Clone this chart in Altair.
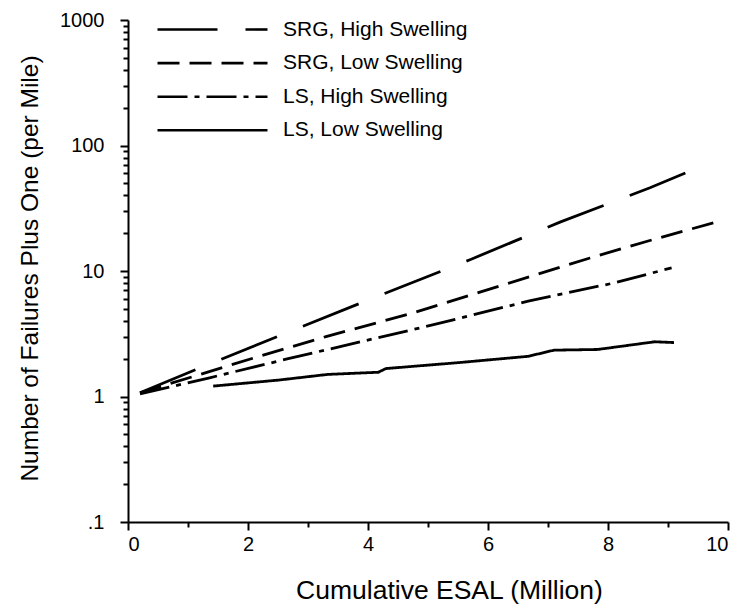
import altair as alt
import pandas as pd

series_names = ["SRG, High Swelling", "SRG, Low Swelling", "LS, High Swelling", "LS, Low Swelling"]

srg_high_x = [0.2, 1.2, 2.7, 4.2, 5.7, 7.2, 8.7, 9.55]
srg_high_y = [1.07, 1.69, 3.3, 6.4, 12.3, 24.5, 46.0, 68.0]

srg_low_x = [0.2, 1.2, 2.2, 3.3, 4.7, 6.2, 7.7, 8.75, 9.8]
srg_low_y = [1.07, 1.5, 2.1, 3.0, 4.56, 7.6, 12.7, 17.8, 24.5]

ls_high_x = [0.2, 1.36, 2.67, 3.33, 5.11, 6.67, 8.11, 9.06]
ls_high_y = [1.05, 1.41, 2.0, 2.37, 3.75, 5.75, 8.05, 10.6]

ls_low_x = [1.42, 2.5, 3.33, 4.17, 4.3, 5.5, 6.67, 7.1, 7.83, 8.78, 9.1]
ls_low_y = [1.21, 1.35, 1.5, 1.56, 1.67, 1.86, 2.09, 2.34, 2.37, 2.73, 2.69]

x_major = [0, 2, 4, 6, 8, 10]
x_minor = [1, 3, 5, 7, 9]
y_major = [0.1, 1, 10, 100, 1000]
y_minor = [m * d for d in [0.1, 1, 10, 100] for m in [2, 3, 4, 5, 6, 7, 8, 9]]

dash_styles = [[60, 28], [22, 10], [30, 7, 5, 7], [1, 0]]

rows = []
for name, xs, ys in zip(series_names,
                        [srg_high_x, srg_low_x, ls_high_x, ls_low_x],
                        [srg_high_y, srg_low_y, ls_high_y, ls_low_y]):
    for x, y in zip(xs, ys):
        rows.append({"series": name, "esal": x, "failures": y})
df = pd.DataFrame(rows)

FONT = "Liberation Sans"
common = dict(
    grid=False, domainColor="black", domainWidth=2, tickColor="black", tickWidth=2,
    labelColor="black", titleColor="black", labelFont=FONT, titleFont=FONT,
    titleFontWeight="normal", labelOverlap=False,
)

x_scale = alt.Scale(domain=[0, 10], nice=False, zero=False)
y_scale = alt.Scale(type="log", domain=[0.1, 1000], nice=False)

x_axis = alt.Axis(
    values=x_major, orient="bottom",
    title="Cumulative ESAL (Million)",
    format="d", tickSize=8,
    labelFontSize=20, titleFontSize=26.5,
    labelPadding=4, titlePadding=23, titleX=321, titleAlign="center",
    **common,
)

y_axis = alt.Axis(
    values=y_major, orient="left",
    title="Number of Failures Plus One (per Mile)",
    labelExpr="datum.value == 0.1 ? '.1' : format(datum.value, 'd')",
    tickSize=8,
    labelFontSize=20, labelPadding=16,
    titleFontSize=24.5, titleX=-98, titleY=248, titleAngle=270,
    titleBaseline="middle", titleAlign="center",
    **common,
)

x_minor_axis = alt.Axis(values=x_minor, orient="bottom", labels=False, domain=False,
                        tickSize=5, tickColor="black", tickWidth=2, grid=False, title=None)
y_minor_axis = alt.Axis(values=y_minor, orient="left", labels=False, domain=False,
                        tickSize=5, tickColor="black", tickWidth=2, grid=False, title=None)

lines = alt.Chart(df).mark_line(color="black", strokeWidth=2.8).encode(
    x=alt.X("esal:Q", scale=x_scale, axis=x_axis),
    y=alt.Y("failures:Q", scale=y_scale, axis=y_axis),
    strokeDash=alt.StrokeDash(
        "series:N",
        scale=alt.Scale(domain=series_names, range=dash_styles),
        legend=alt.Legend(
            title=None,
            orient="none",
            legendX=74,
            legendY=-1,
            symbolType="M-10,0H10",
            symbolSize=121,
            symbolStrokeWidth=2.6,
            symbolStrokeColor="black",
            labelFontSize=21,
            labelFont=FONT,
            labelColor="black",
            labelOffset=60,
            labelLimit=400,
            rowPadding=11.6,
            padding=0,
        ),
    ),
)

minor = alt.Chart(df).mark_point(opacity=0).encode(
    x=alt.X("esal:Q", scale=x_scale, axis=x_minor_axis),
    y=alt.Y("failures:Q", scale=y_scale, axis=y_minor_axis),
)

chart = alt.layer(lines, minor).resolve_axis(x="independent", y="independent").properties(
    width=600,
    height=502,
    background="white",
    autosize=alt.AutoSizeParams(type="none"),
    padding={"left": 128, "top": 20, "right": 9, "bottom": 83},
).configure_view(
    stroke=None
)

chart.save("out.html", embed_options={"renderer": "svg", "actions": False})
